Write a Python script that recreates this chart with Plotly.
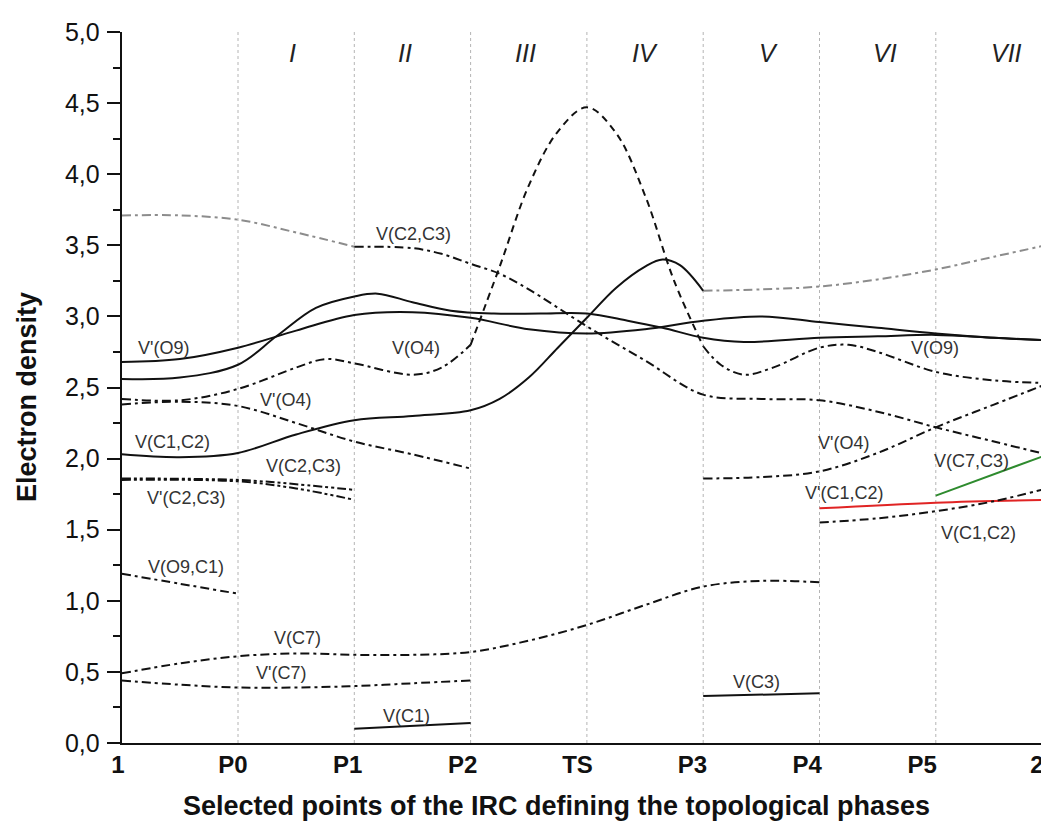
import plotly.graph_objects as go

# ---------------- data ----------------
categories = ["1", "P0", "P1", "P2", "TS", "P3", "P4", "P5", "2"]
phases = ["I", "II", "III", "IV", "V", "VI", "VII"]
phase_x = [1.47, 2.44, 3.47, 4.5, 5.56, 6.56, 7.61]

# grey dash-dot basin (two pieces)
grey_a_x = [0, 0.5, 1, 1.5, 2]
grey_a_y = [3.71, 3.71, 3.68, 3.59, 3.49]
grey_b_x = [5, 5.5, 6, 6.5, 7, 7.5, 8]
grey_b_y = [3.18, 3.19, 3.21, 3.26, 3.33, 3.42, 3.51]

# V(C2,C3) black dash-dot from P1
vc2c3_x = [2, 2.5, 2.75, 3, 3.25, 3.5, 4, 4.5, 5, 5.5, 6, 6.5, 7, 7.5, 8]
vc2c3_y = [3.49, 3.48, 3.44, 3.37, 3.30, 3.19, 2.93, 2.69, 2.45, 2.42, 2.41, 2.33, 2.22, 2.12, 2.02]

# V(O4) big peak (dash-dot / dashed / dash-dot)
vo4_a_x = [0, 0.5, 1, 1.5, 1.75, 2, 2.5, 2.75, 3]
vo4_a_y = [2.42, 2.41, 2.49, 2.64, 2.70, 2.67, 2.59, 2.64, 2.80]
vo4_b_x = [3, 3.25, 3.5, 3.75, 4, 4.25, 4.5, 4.75, 5]
vo4_b_y = [2.80, 3.35, 3.92, 4.30, 4.47, 4.29, 3.85, 3.25, 2.79]
vo4_c_x = [5, 5.15, 5.35, 5.6, 6, 6.25, 6.5, 7, 7.5, 8]
vo4_c_y = [2.79, 2.66, 2.59, 2.64, 2.78, 2.80, 2.75, 2.61, 2.55, 2.53]

# solid curves
vpo9_x = [0, 0.5, 1, 1.5, 2, 2.5, 3, 3.5, 4, 4.5, 5, 5.5, 6, 6.5, 7, 7.5, 8]
vpo9_y = [2.68, 2.70, 2.78, 2.90, 3.01, 3.03, 2.99, 2.91, 2.88, 2.91, 2.97, 3.00, 2.96, 2.92, 2.88, 2.85, 2.83]
vo9_x = [0, 0.5, 1, 1.33, 1.67, 2, 2.2, 2.5, 2.83, 3.2, 3.6, 4, 4.35, 4.65, 5, 5.35, 6, 6.5, 7, 7.5, 8]
vo9_y = [2.56, 2.57, 2.66, 2.86, 3.06, 3.14, 3.16, 3.10, 3.04, 3.02, 3.02, 3.02, 2.97, 2.92, 2.85, 2.82, 2.85, 2.86, 2.87, 2.85, 2.83]
vc1c2_x = [0, 0.5, 1, 1.5, 2, 2.5, 3, 3.25, 3.5, 3.75, 4, 4.25, 4.5, 4.65, 4.8, 5]
vc1c2_y = [2.03, 2.01, 2.04, 2.17, 2.27, 2.30, 2.34, 2.42, 2.57, 2.78, 2.99, 3.20, 3.35, 3.40, 3.36, 3.18]

# V'(O4)
vpo4_a_x = [0, 0.5, 1, 1.5, 2, 2.5, 3]
vpo4_a_y = [2.38, 2.40, 2.37, 2.25, 2.12, 2.03, 1.93]
vpo4_b_x = [5, 5.5, 6, 6.5, 7, 7.5, 8]
vpo4_b_y = [1.86, 1.87, 1.91, 2.04, 2.22, 2.38, 2.54]

# V(C2,C3) / V'(C2,C3) left
vc2c3l_x = [0, 1, 1.5, 2]
vc2c3l_y = [1.86, 1.85, 1.82, 1.78]
vpc2c3_x = [0, 1, 1.5, 2]
vpc2c3_y = [1.85, 1.84, 1.79, 1.71]

# V(O9,C1)
vo9c1_x = [0, 0.5, 1]
vo9c1_y = [1.19, 1.12, 1.05]

# V(C7), V'(C7)
vc7_x = [0, 0.5, 1, 1.5, 2, 2.5, 3, 3.5, 4, 4.5, 5, 5.5, 6]
vc7_y = [0.49, 0.56, 0.61, 0.63, 0.62, 0.62, 0.64, 0.72, 0.83, 0.97, 1.10, 1.14, 1.13]
vpc7_x = [0, 0.5, 1, 1.5, 2, 2.5, 3]
vpc7_y = [0.44, 0.41, 0.39, 0.39, 0.40, 0.42, 0.44]

# V(C1), V(C3)
vc1_x = [2, 3]
vc1_y = [0.10, 0.14]
vc3_x = [5, 6]
vc3_y = [0.33, 0.35]

# right-side basins
vpc1c2r_x = [6, 7, 8]
vpc1c2r_y = [1.65, 1.69, 1.71]
vc7c3_x = [7, 8]
vc7c3_y = [1.74, 2.04]
vc1c2r_x = [6, 6.5, 7, 7.5, 8]
vc1c2r_y = [1.55, 1.58, 1.63, 1.70, 1.80]

# curve labels
label_text = ["V'(O9)", "V(C2,C3)", "V(O4)", "V'(O4)", "V(C1,C2)", "V(C2,C3)",
              "V'(C2,C3)", "V(O9,C1)", "V(C7)", "V'(C7)", "V(C1)", "V(C3)",
              "V'(O4)", "V(C7,C3)", "V'(C1,C2)", "V(C1,C2)", "V(O9)"]
label_x = [0.36, 2.51, 2.53, 1.41, 0.44, 1.56, 0.55, 0.55, 1.51, 1.37, 2.45, 5.46,
           6.21, 7.31, 6.21, 7.37, 6.99]
label_y = [2.78, 3.58, 2.78, 2.41, 2.12, 1.95, 1.72, 1.24, 0.74, 0.49, 0.19, 0.43,
           2.11, 1.98, 1.76, 1.48, 2.78]

# ---------------- styles ----------------
FONT = "Liberation Sans, Arial, sans-serif"
DASHDOT = "9px,4px,3px,4px"
DASHDOTDOT = "9px,3px,3px,3px,3px,3px"
DASH = "7px,5px"
BLACK = "#111111"
GREY = "#8c8c8c"

series = [
    (grey_a_x, grey_a_y, GREY, DASHDOT),
    (grey_b_x, grey_b_y, GREY, DASHDOT),
    (vc2c3_x, vc2c3_y, BLACK, DASHDOT),
    (vo4_a_x, vo4_a_y, BLACK, DASHDOT),
    (vo4_b_x, vo4_b_y, BLACK, DASH),
    (vo4_c_x, vo4_c_y, BLACK, DASHDOT),
    (vpo9_x, vpo9_y, BLACK, "solid"),
    (vo9_x, vo9_y, BLACK, "solid"),
    (vc1c2_x, vc1c2_y, BLACK, "solid"),
    (vpo4_a_x, vpo4_a_y, BLACK, DASHDOT),
    (vpo4_b_x, vpo4_b_y, BLACK, DASHDOT),
    (vc2c3l_x, vc2c3l_y, BLACK, DASHDOTDOT),
    (vpc2c3_x, vpc2c3_y, BLACK, DASHDOTDOT),
    (vo9c1_x, vo9c1_y, BLACK, DASHDOT),
    (vc7_x, vc7_y, BLACK, DASHDOT),
    (vpc7_x, vpc7_y, BLACK, DASHDOT),
    (vc1_x, vc1_y, BLACK, "solid"),
    (vc3_x, vc3_y, BLACK, "solid"),
    (vpc1c2r_x, vpc1c2r_y, "#e02424", "solid"),
    (vc7c3_x, vc7c3_y, "#2e8b2e", "solid"),
    (vc1c2r_x, vc1c2r_y, BLACK, DASHDOT),
]

fig = go.Figure()
for xs, ys, col, dash in series:
    fig.add_trace(go.Scatter(
        x=xs, y=ys, mode="lines",
        line=dict(color=col, width=2, dash=dash,
                  shape="spline" if len(xs) > 2 else "linear", smoothing=1.0),
        showlegend=False, hoverinfo="skip"))

# invisible trace to carry the category tick-label axis
fig.add_trace(go.Scatter(x=list(range(len(categories))), y=[None] * len(categories),
                         xaxis="x2", yaxis="y", mode="lines", showlegend=False,
                         hoverinfo="skip"))

# vertical dotted phase separators
for i in range(1, len(categories) - 1):
    fig.add_shape(type="line", x0=i, x1=i, y0=0, y1=5, xref="x", yref="y",
                  line=dict(color="#b4b4b4", width=1, dash="dot"), layer="below")

W, H = 1041, 821
plot_top = 32
plot_bottom = 743
x0_px = 121.7
right_px = 1041
unit_px = 116.3
plot_h = plot_bottom - plot_top

annotations = []
for t, px in zip(phases, phase_x):
    annotations.append(dict(x=px, y=4.85, xref="x", yref="y", text=t, showarrow=False,
                            font=dict(family=FONT, size=25, color="#222222", style="italic")))
for t, lx, ly in zip(label_text, label_x, label_y):
    annotations.append(dict(x=lx, y=ly, xref="x", yref="y", text=t, showarrow=False,
                            font=dict(family=FONT, size=18, color="#333333")))
annotations.append(dict(x=556 / W, y=(plot_bottom - 806) / plot_h,
                        xref="paper", yref="paper",
                        text="<b>Selected points of the IRC defining the topological phases</b>",
                        showarrow=False, xanchor="center", yanchor="middle",
                        font=dict(family=FONT, size=27, color="#111111")))
annotations.append(dict(x=27 / W, y=(plot_bottom - 397) / plot_h,
                        xref="paper", yref="paper",
                        text="<b>Electron density</b>", textangle=-90,
                        showarrow=False, xanchor="center", yanchor="middle",
                        font=dict(family=FONT, size=27, color="#111111")))

fig.update_layout(
    template="none",
    width=W, height=H,
    margin=dict(l=0, r=0, t=plot_top, b=H - plot_bottom),
    paper_bgcolor="white", plot_bgcolor="rgba(0,0,0,0)",
    separators=",.",
    font=dict(family=FONT, color="#111111"),
    xaxis=dict(domain=[x0_px / W, right_px / W], range=[0, (right_px - x0_px) / unit_px],
               showline=True, linewidth=2, linecolor=BLACK, ticks="",
               showticklabels=False, showgrid=False, zeroline=False,
               automargin=False),
    xaxis2=dict(domain=[118 / W, 1037 / W], range=[0, 8], anchor="y",
                tickvals=list(range(len(categories))), ticktext=categories,
                tickfont=dict(family=FONT, size=24, color="#111111", weight="bold"),
                showline=False, ticks="", showgrid=False, zeroline=False,
                ticklabelstandoff=5, ticklabeloverflow="allow", automargin=False),
    yaxis=dict(range=[0, 5], anchor="x", showline=True, linewidth=2, linecolor=BLACK,
               ticks="outside", ticklen=13, tickwidth=2, tickcolor=BLACK,
               dtick=0.5, tick0=0, tickformat=".1f",
               tickfont=dict(family=FONT, size=25, color="#111111"),
               minor=dict(ticks="outside", ticklen=7, tickwidth=2, tickcolor=BLACK,
                          dtick=0.25, tick0=0, showgrid=False),
               showgrid=False, zeroline=False, automargin=False,
               ticklabelstandoff=2),
    annotations=annotations,
)

fig.write_html("out.html",
               config={"displayModeBar": False},
               post_script="document.body.style.margin='0';document.body.style.overflow='hidden';")
